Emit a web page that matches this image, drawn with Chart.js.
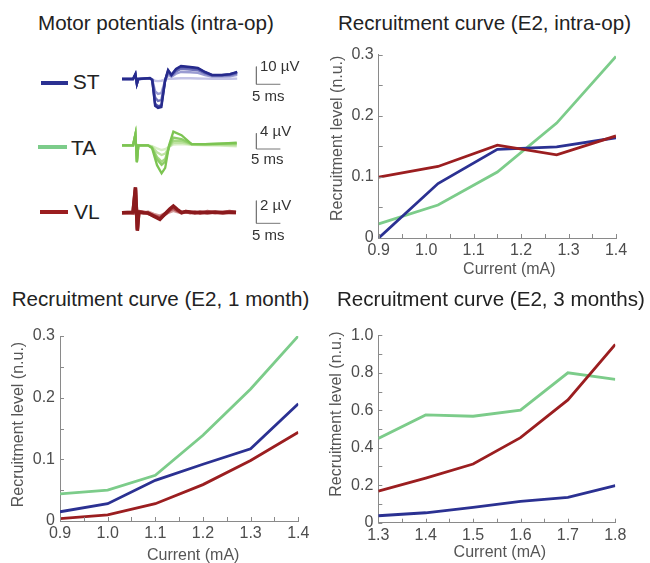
<!DOCTYPE html>
<html>
<head>
<meta charset="utf-8">
<script src="https://cdn.jsdelivr.net/npm/chart.js@4.4.1/dist/chart.umd.min.js"></script>
<style>
  html, body { margin: 0; padding: 0; background: #fff; }
  body { width: 650px; height: 563px; position: relative; overflow: hidden;
         font-family: 'Liberation Sans', Arial, sans-serif; }
  canvas, .txt, .key { position: absolute; }
  .txt { white-space: nowrap; }
</style>
</head>
<body>
<canvas id="stTrace" width="200" height="70" style="left:118px;top:50px"></canvas>
<canvas id="taTrace" width="200" height="65" style="left:118px;top:115px"></canvas>
<canvas id="vlTrace" width="200" height="60" style="left:118px;top:180px"></canvas>
<canvas id="intraOp" width="330" height="250" style="left:320px;top:40px"></canvas>
<canvas id="oneMonth" width="320" height="243" style="left:0px;top:320px"></canvas>
<canvas id="threeMonths" width="330" height="243" style="left:320px;top:320px"></canvas>
<script>
// recruitment curve, intra-op
var currentIntraOp = [0.9, 1.025, 1.15, 1.275, 1.4];
var stIntraOp = [0, 0.089, 0.145, 0.149, 0.164];
var taIntraOp = [0.023, 0.054, 0.108, 0.188, 0.297];
var vlIntraOp = [0.0996, 0.117, 0.152, 0.136, 0.167];

// recruitment curve, 1 month
var current1Month = [0.9, 1.0, 1.1, 1.2, 1.3, 1.4];
var st1Month = [0.015, 0.028, 0.066, 0.092, 0.117, 0.19];
var ta1Month = [0.044, 0.05, 0.074, 0.139, 0.214, 0.30];
var vl1Month = [0.004, 0.01, 0.028, 0.059, 0.098, 0.144];

// recruitment curve, 3 months
var current3Months = [1.3, 1.4, 1.5, 1.6, 1.7, 1.8];
var st3Months = [0.037, 0.053, 0.082, 0.114, 0.135, 0.198];
var ta3Months = [0.45, 0.575, 0.568, 0.601, 0.80, 0.765];
var vl3Months = [0.169, 0.238, 0.313, 0.454, 0.655, 0.952];

// labelled ticks
var currentTicksLow = [0.9, 1.0, 1.1, 1.2, 1.3, 1.4];
var currentTicksHigh = [1.3, 1.4, 1.5, 1.6, 1.7, 1.8];
var levelTicksLow = [0, 0.1, 0.2, 0.3];
var levelTicksHigh = [0, 0.2, 0.4, 0.6, 0.8, 1.0];

// motor potentials (ms, µV), traces light -> dark
var stTime = [0, 2.3, 2.8, 3.1, 3.4, 5.8, 6.3, 6.9, 7.5, 8.2, 9.0, 9.6, 10.3, 11.25, 12.3, 14.2, 15.8, 17.3, 18.75, 20.8, 22.5, 24];
var stTraces = [
  [0, 0, 2.5, -2.5, 0, 0.2, -0.1, -1.0, -1.2, -1.0, -0.3, 0.2, 0.1, 0.3, 0.4, 0.4, 0.3, 0.2, 0.1, 0.1, 0.1, 0.2],
  [0, 0, 2.6, -2.6, 0, 0.3, -0.3, -7.0, -8.5, -8.0, -0.8, 2.5, 1.2, 3.0, 4.0, 3.8, 3.5, 2.2, 1.4, 1.4, 1.6, 2.4],
  [0, 0, 2.7, -2.7, 0, 0.4, -0.4, -10.5, -12.5, -12.0, -0.7, 3.8, 1.8, 4.3, 5.8, 5.4, 5.0, 3.2, 1.9, 2.0, 2.3, 3.2],
  [0, 0, 2.8, -2.8, 0, 0.5, -0.5, -14.0, -15.5, -15.0, -0.6, 4.8, 2.2, 5.4, 7.0, 6.5, 6.0, 3.8, 2.2, 2.2, 2.7, 3.8],
  [0, 0, 2.8, -2.8, 0, 0.6, -0.6, -15.3, -16.5, -15.9, -0.6, 5.1, 2.3, 5.7, 7.4, 6.8, 6.3, 4.0, 2.3, 2.3, 2.8, 4.0]
];
var taTime = [0, 2.3, 2.8, 3.1, 3.4, 5.4, 6.25, 7.3, 8.25, 9.0, 9.8, 10.7, 12.4, 14.5, 17.3, 20.4, 23.9];
var taTraces = [
  [0, 0, 2.6, -4.0, 0, 0, -0.2, -0.8, -1.2, -1.0, -0.4, 0.2, 0.3, 0.1, 0, -0.1, -0.3],
  [0, 0, 2.7, -4.1, 0, 0, -0.3, -1.8, -2.5, -2.1, -0.5, 0.6, 0.7, 0.2, 0.1, 0.1, 0.0],
  [0, 0, 2.8, -4.2, 0, 0, -0.5, -3.0, -4.2, -3.5, -0.4, 1.2, 1.1, 0.3, 0.2, 0.3, 0.3],
  [0, 0, 2.9, -4.3, 0, 0, -0.6, -3.6, -5.0, -4.2, -0.3, 2.0, 1.6, 0.3, 0.3, 0.4, 0.5],
  [0, 0, 2.9, -4.4, 0, 0, -0.7, -5.1, -7.2, -5.8, 0, 3.5, 2.6, 0.3, 0.3, 0.45, 0.7]
];
var vlTime = [0, 2.3, 2.8, 3.2, 3.5, 4.5, 5.4, 6.6, 7.9, 9.2, 10.0, 10.7, 11.5, 12.4, 13.3, 14.2, 15.2, 16.25, 17.8, 19.4, 21.0, 22.4, 23.75];
var vlTraces = [
  [0, 0.05, 2.0, -1.4, 0.05, -0.05, 0.05, -0.15, -0.3, -0.05, 0.1, 0.2, 0.1, 0.0, 0.05, 0.05, -0.05, 0.05, 0.0, 0.05, -0.05, 0.05, 0.0],
  [0, -0.05, 2.15, -1.5, 0.1, 0.05, -0.05, -0.25, -0.45, -0.05, 0.25, 0.4, 0.2, 0.0, 0.1, 0.0, 0.05, -0.05, 0.1, 0.0, 0.05, 0.1, 0.05],
  [0, 0.05, 2.25, -1.6, 0.06, 0.0, -0.03, -0.3, -0.58, 0.0, 0.35, 0.59, 0.3, 0.0, 0.1, 0.06, 0.0, 0.05, 0.0, 0.06, 0.0, 0.05, 0.02]
];

var BLUE = '#2b3192', GREEN = '#7ccc8a', RED = '#9b1e20';
var AXIS = '#8a8a8a', TICK = '#4d4d4d';
var FONT = "'Liberation Sans', Arial, sans-serif";
Chart.defaults.font.family = FONT;

// html text placed by its baseline
function putText(str, x, baseline, size, color) {
  var d = document.createElement('div');
  d.className = 'txt';
  d.textContent = str;
  d.style.cssText = 'left:' + x + 'px;top:' + (baseline - 0.8465 * size) + 'px;font-size:' + size +
    'px;line-height:' + size + 'px;color:' + color;
  document.body.appendChild(d);
}
function putKey(color, x, y, w) {
  var d = document.createElement('div');
  d.className = 'key';
  d.style.cssText = 'left:' + x + 'px;top:' + (y - 2) + 'px;width:' + w + 'px;height:4px;background:' + color;
  document.body.appendChild(d);
}

putText('Motor potentials (intra-op)', 38, 30.5, 20.6, '#222');
putText('Recruitment curve (E2, intra-op)', 338, 30.5, 20.6, '#222');
putText('Recruitment curve (E2, 1 month)', 11.7, 306.7, 20.6, '#222');
putText('Recruitment curve (E2, 3 months)', 337, 306.7, 20.6, '#222');

putKey(BLUE, 40.7, 82.5, 27.6);
putKey(GREEN, 38.3, 147.3, 28.4);
putKey(RED, 40, 211.7, 28.3);
putText('ST', 72.7, 88.3, 21, '#222');
putText('TA', 71, 154.3, 21, '#222');
putText('VL', 74, 218.3, 21, '#222');

putText('10 µV', 260, 70.7, 15, '#333');
putText('5 ms', 252, 101, 15, '#333');
putText('4 µV', 260, 136, 15, '#333');
putText('5 ms', 251, 164, 15, '#333');
putText('2 µV', 260, 209.5, 15, '#333');
putText('5 ms', 252, 240, 15, '#333');

var traceChart = function (id, time, traces, colors, width, bar, yMin, yMax) {
  var datasets = traces.map(function (tr, i) {
    return {
      data: time.map(function (t, k) { return { x: t, y: tr[k] }; }),
      borderColor: colors[i], borderWidth: width, pointRadius: 0, tension: 0,
      order: traces.length - i
    };
  });
  // scale bar: bar.dy µV up, 5 ms across
  datasets.push({
    data: [{ x: bar.t, y: bar.y + bar.dy }, { x: bar.t, y: bar.y }, { x: bar.t + 5, y: bar.y }],
    borderColor: '#777', borderWidth: 1, pointRadius: 0, tension: 0, order: 99
  });
  return new Chart(document.getElementById(id), {
    type: 'line',
    data: { datasets: datasets },
    options: {
      responsive: false, animation: false, events: [],
      layout: { padding: 0 },
      plugins: { legend: { display: false }, tooltip: { enabled: false } },
      scales: {
        x: { type: 'linear', display: false, min: -0.833, max: 40.833 },
        y: { display: false, min: yMin, max: yMax }
      }
    }
  });
};

traceChart('stTrace', stTime, stTraces, ['#c4c4e6', '#9a9cd2', '#6e71b8', '#474ba4', '#262a8c'], 2.4,
  { t: 28, y: -3, dy: 10 }, -23.3, 16.48);
traceChart('taTrace', taTime, taTraces, ['#d8eec6', '#bfe3a3', '#a5d883', '#8dcd68', '#7cc452'], 2.3,
  { t: 28, y: -0.95, dy: 4 }, -8.9, 7.77);
traceChart('vlTrace', vlTime, vlTraces, ['#d49a9a', '#b04f52', '#8b1a1d'], 3.5,
  { t: 28, y: -0.94, dy: 2 }, -2.416, 2.894);

var inwardTicks = {
  id: 'inwardTicks',
  afterDraw: function (chart) {
    var ctx = chart.ctx, a = chart.chartArea, x = chart.scales.x, y = chart.scales.y;
    ctx.save();
    ctx.strokeStyle = AXIS;
    ctx.lineWidth = 1;
    ctx.beginPath();
    x.ticks.forEach(function (t) {
      var px = Math.round(x.getPixelForValue(t.value)) + 0.5;
      ctx.moveTo(px, a.bottom); ctx.lineTo(px, a.bottom - 4);
    });
    y.ticks.forEach(function (t) {
      var py = Math.round(y.getPixelForValue(t.value)) + 0.5;
      ctx.moveTo(a.left, py); ctx.lineTo(a.left + 4, py);
    });
    ctx.stroke();
    ctx.restore();
  }
};

var axisTitles = {
  id: 'axisTitles',
  afterDraw: function (chart, args, opts) {
    var ctx = chart.ctx, a = chart.chartArea;
    ctx.save();
    ctx.fillStyle = '#555';
    ctx.font = '16px ' + FONT;
    ctx.textAlign = 'center';
    ctx.textBaseline = 'middle';
    ctx.fillText('Current (mA)', (a.left + a.right) / 2 + opts.xShift[0], a.bottom + opts.xShift[1]);
    ctx.translate(a.left + opts.yShift[0], (a.top + a.bottom) / 2 + opts.yShift[1]);
    ctx.rotate(-Math.PI / 2);
    ctx.fillText('Recruitment level (n.u.)', 0, 0);
    ctx.restore();
  }
};

var tickLabel = function (shown) {
  return function (v) {
    var hit = shown.some(function (s) { return Math.abs(s - v) < 1e-6; });
    if (!hit) return '';
    return Math.abs(v) < 1e-9 ? '0' : v.toFixed(1);
  };
};

var recruitmentChart = function (id, c) {
  var line = function (vals, color) {
    return {
      data: c.current.map(function (x, i) { return { x: x, y: vals[i] }; }),
      borderColor: color, borderWidth: 2.8, pointRadius: 0, tension: 0
    };
  };
  return new Chart(document.getElementById(id), {
    type: 'line',
    data: { datasets: [line(c.vl, RED), line(c.st, BLUE), line(c.ta, GREEN)] },
    options: {
      responsive: false, animation: false, events: [],
      layout: { padding: { left: 0, top: c.top, right: c.right, bottom: 0 } },
      plugins: {
        legend: { display: false }, tooltip: { enabled: false },
        axisTitles: { xShift: c.xShift, yShift: c.yShift }
      },
      scales: {
        x: {
          type: 'linear', min: c.xMin, max: c.xMax,
          grid: { display: false, drawTicks: false },
          border: { color: AXIS, width: 1 },
          ticks: { stepSize: 0.05, autoSkip: false, maxRotation: 0, padding: 3, color: TICK,
                   font: { size: 16 }, callback: tickLabel(c.xTicks) },
          afterFit: function (s) { s.height = c.xAxisH; }
        },
        y: {
          min: 0, max: c.yMax,
          grid: { display: false, drawTicks: false },
          border: { color: AXIS, width: 1 },
          ticks: { stepSize: c.yStep, autoSkip: false, padding: 5, color: TICK,
                   font: { size: 16 }, callback: tickLabel(c.yTicks) },
          afterFit: function (s) { s.width = c.yAxisW; }
        }
      }
    },
    plugins: [inwardTicks, axisTitles]
  });
};

recruitmentChart('intraOp', {
  current: currentIntraOp, st: stIntraOp, ta: taIntraOp, vl: vlIntraOp,
  xMin: 0.9, xMax: 1.4, yMax: 0.3, yStep: 0.05, xTicks: currentTicksLow, yTicks: levelTicksLow,
  top: 10.7, right: 34, xAxisH: 52, yAxisW: 58.7, xShift: [12, 31.5], yShift: [-41, -8]
});
recruitmentChart('oneMonth', {
  current: current1Month, st: st1Month, ta: ta1Month, vl: vl1Month,
  xMin: 0.9, xMax: 1.4, yMax: 0.3, yStep: 0.05, xTicks: currentTicksLow, yTicks: levelTicksLow,
  top: 16, right: 21.7, xAxisH: 42, yAxisW: 60, xShift: [14, 34.5], yShift: [-41, -4]
});
recruitmentChart('threeMonths', {
  current: current3Months, st: st3Months, ta: ta3Months, vl: vl3Months,
  xMin: 1.3, xMax: 1.8, yMax: 1.0, yStep: 0.1, xTicks: currentTicksHigh, yTicks: levelTicksHigh,
  top: 15.3, right: 34.7, xAxisH: 40.3, yAxisW: 58.3, xShift: [3, 30], yShift: [-41.5, -15]
});
</script>
</body>
</html>
